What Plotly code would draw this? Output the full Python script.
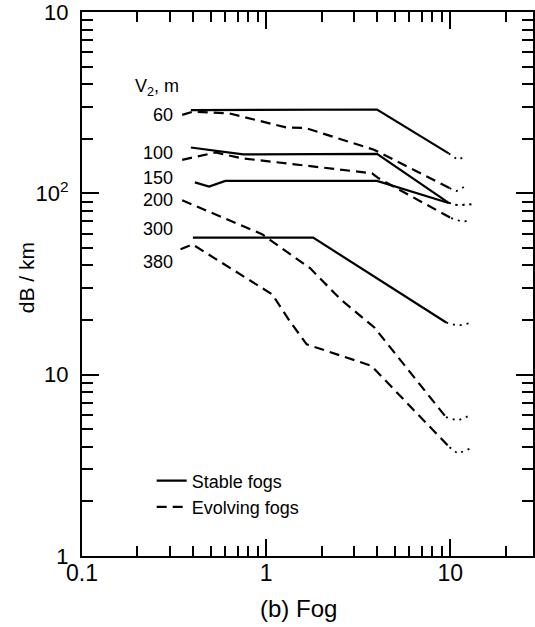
import plotly.graph_objects as go

# ---------------- data ----------------
# Stable fogs (solid lines); main part + dotted tail
st60_x = [0.39, 4.0, 9.8]
st60_y = [288, 290, 166]
st60_tx = [9.8, 11.0, 12.0]
st60_ty = [166, 153, 160]

st100_x = [0.39, 0.75, 4.0, 9.8]
st100_y = [179, 164, 165, 88.5]
st100_tx = [9.8, 11.0, 13.0]
st100_ty = [88.5, 86, 87]

st150_x = [0.41, 0.49, 0.60, 4.0, 9.8]
st150_y = [115, 109, 117, 117, 88.5]
st150_tx = [9.8, 11.0, 13.0]
st150_ty = [88.5, 86, 87]

st300_x = [0.40, 1.8, 9.5]
st300_y = [57, 57, 19.4]
st300_tx = [9.5, 11.0, 13.3]
st300_ty = [19.4, 18.6, 19.4]

# Evolving fogs (dashed lines)
ev60_x = [0.35, 0.40, 0.63, 1.28, 1.64, 3.85, 9.9]
ev60_y = [271, 282, 276, 231, 229, 174, 107]
ev60_tx = [9.9, 10.8, 12.0]
ev60_ty = [107, 103, 109]

ev100_x = [0.35, 0.53, 0.74, 3.06, 3.76, 4.08, 10.1]
ev100_y = [153, 168, 156, 132, 129, 121, 73]
ev100_tx = [10.1, 11.5, 13.0]
ev100_ty = [73, 70, 70.5]

ev200_x = [0.35, 0.95, 1.73, 2.54, 3.87, 9.47]
ev200_y = [91.5, 59.5, 38.7, 26, 18.2, 5.83]
ev200_tx = [9.47, 11.0, 12.7]
ev200_ty = [5.83, 5.59, 5.95]

ev380_x = [0.343, 0.398, 1.08, 1.34, 1.66, 2.54, 3.72, 9.9]
ev380_y = [49.1, 52.3, 27.7, 19.8, 14.7, 12.7, 11.2, 3.98]
ev380_tx = [9.9, 11.0, 12.7]
ev380_ty = [3.98, 3.67, 3.9]

curve_labels = ["60", "100", "150", "200", "300", "380"]
legend_names = ["Stable fogs", "Evolving fogs"]

x_tickvals = [0.1, 1, 10]
x_ticktext = ["0.1", "1", "10"]
y_tickvals = [1, 10, 100, 1000]
y_ticktext = ["1", "10", "10<sup>2</sup>", "10"]

# ---------------- figure ----------------
FONT = "Liberation Sans"
W, H = 535, 627
ML, MR, MT, MB = 82, 0, 10, 71
PW, PH = W - ML - MR, H - MT - MB

fig = go.Figure()

solid = dict(color="black", width=2.2)
dashed = dict(color="black", width=2.2, dash="10px,6px")
dotted = dict(color="black", width=1.8, dash="2px,5px")

stable = [(st60_x, st60_y, st60_tx, st60_ty),
          (st100_x, st100_y, st100_tx, st100_ty),
          (st150_x, st150_y, st150_tx, st150_ty),
          (st300_x, st300_y, st300_tx, st300_ty)]
evolving = [(ev60_x, ev60_y, ev60_tx, ev60_ty),
            (ev100_x, ev100_y, ev100_tx, ev100_ty),
            (ev200_x, ev200_y, ev200_tx, ev200_ty),
            (ev380_x, ev380_y, ev380_tx, ev380_ty)]

for i, (x, y, tx, ty) in enumerate(stable):
    fig.add_trace(go.Scatter(x=x, y=y, mode="lines", line=solid,
                             name=legend_names[0], legendgroup="s",
                             showlegend=(i == 0)))
    fig.add_trace(go.Scatter(x=tx, y=ty, mode="lines", line=dotted,
                             showlegend=False, legendgroup="s"))
for i, (x, y, tx, ty) in enumerate(evolving):
    fig.add_trace(go.Scatter(x=x, y=y, mode="lines", line=dashed,
                             name=legend_names[1], legendgroup="e",
                             showlegend=(i == 0)))
    fig.add_trace(go.Scatter(x=tx, y=ty, mode="lines", line=dotted,
                             showlegend=False, legendgroup="e"))

def px2paper(px, py):
    return (px - ML) / PW, (MT + PH - py) / PH

annots = []
# curve labels
label_py = [113, 152, 177, 199, 228, 261]
for txt, py in zip(curve_labels, label_py):
    xp, yp = px2paper(175, py)
    annots.append(dict(x=xp, y=yp, xref="paper", yref="paper", text=txt,
                       showarrow=False, xanchor="right", yanchor="middle",
                       font=dict(family=FONT, size=18, color="black")))
xp, yp = px2paper(157, 86)
annots.append(dict(x=xp, y=yp, xref="paper", yref="paper", text="V<sub>2</sub>, m",
                   showarrow=False, xanchor="center", yanchor="middle",
                   font=dict(family=FONT, size=18, color="black")))
# axis titles
xp, yp = px2paper(26, 277)
annots.append(dict(x=xp, y=yp, xref="paper", yref="paper", text="dB / km",
                   textangle=-90, showarrow=False, xanchor="center", yanchor="middle",
                   font=dict(family=FONT, size=21, color="black")))
xp, yp = px2paper(299, 609)
annots.append(dict(x=xp, y=yp, xref="paper", yref="paper", text="(b) Fog",
                   showarrow=False, xanchor="center", yanchor="middle",
                   font=dict(family=FONT, size=24, color="black")))

minor_x = [m * 10 ** e for e in (-1, 0, 1) for m in range(2, 10)]
minor_y = [m * 10 ** e for e in (0, 1, 2) for m in range(2, 10)]

lgx, lgy = px2paper(152, 462)

fig.update_layout(
    width=W, height=H,
    margin=dict(l=ML, r=MR, t=MT, b=MB),
    paper_bgcolor="white", plot_bgcolor="white",
    font=dict(family=FONT, color="black"),
    annotations=annots,
    legend=dict(x=lgx, y=lgy, xanchor="left", yanchor="top",
                bgcolor="rgba(0,0,0,0)", font=dict(family=FONT, size=18),
                tracegroupgap=0),
    xaxis=dict(type="log", range=[-1, 1.449], showgrid=False, zeroline=False,
               showline=True, linecolor="black", linewidth=2, mirror="ticks",
               ticks="inside", ticklen=17, tickwidth=1.6, tickcolor="black",
               tickmode="array", tickvals=x_tickvals, ticktext=x_ticktext,
               tickfont=dict(family=FONT, size=23), ticklabelstandoff=-5,
               ticklabeloverflow="allow",
               minor=dict(tickmode="array", tickvals=minor_x, ticks="inside",
                          ticklen=10, tickwidth=1.6, tickcolor="black", showgrid=False)),
    yaxis=dict(type="log", range=[0, 3], showgrid=False, zeroline=False,
               showline=True, linecolor="black", linewidth=2, mirror="ticks",
               ticks="inside", ticklen=17, tickwidth=1.6, tickcolor="black",
               tickmode="array", tickvals=y_tickvals, ticktext=y_ticktext,
               tickfont=dict(family=FONT, size=22), ticklabelstandoff=7,
               ticklabeloverflow="allow",
               minor=dict(tickmode="array", tickvals=minor_y, ticks="inside",
                          ticklen=11, tickwidth=1.6, tickcolor="black", showgrid=False)),
)

fig.write_html("out.html", config={"displayModeBar": False},
               post_script="document.body.style.margin='0';document.body.style.overflow='hidden';")
